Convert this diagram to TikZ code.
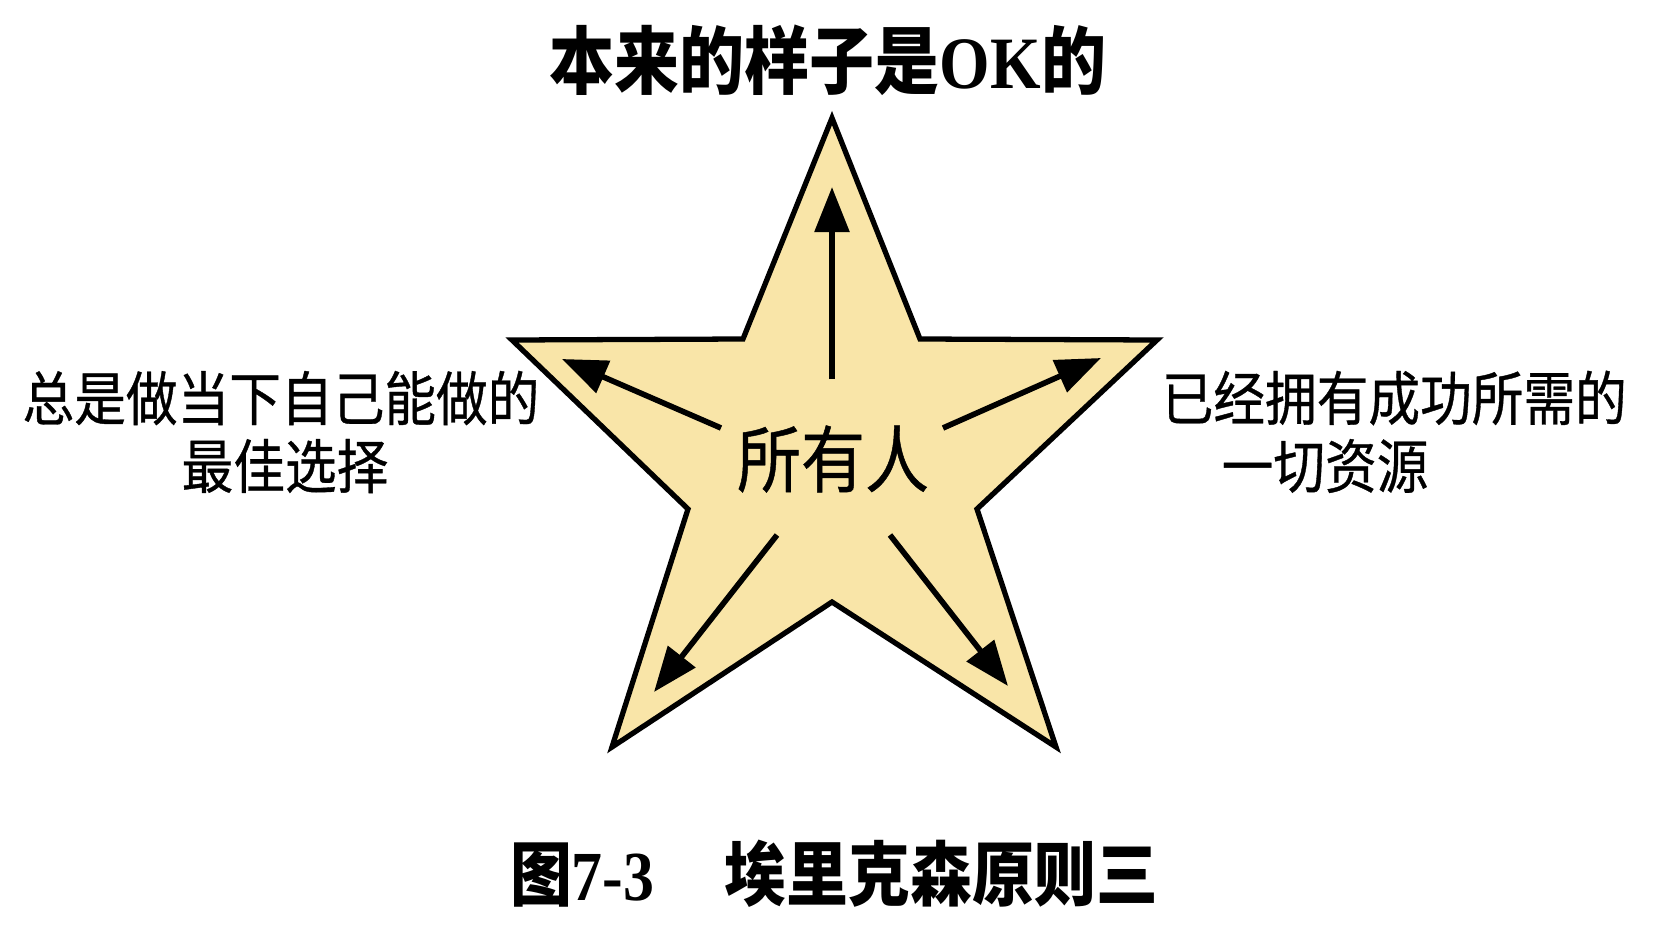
\documentclass[tikz,border=0pt]{standalone}
\usepackage{fontspec}
\setmainfont{Noto Sans CJK SC}
\newfontfamily\cjk[FakeStretch=0.88]{Noto Sans CJK SC}
\newfontfamily\cjkheavy[FakeStretch=0.88,FakeBold=0.6]{Noto Sans CJK SC}
\newfontfamily\latserif[FakeStretch=0.88]{Liberation Serif}
\usetikzlibrary{arrows.meta}
\definecolor{starfill}{RGB}{249,229,168}
\tikzset{
  starline/.style={draw=black, line width=1.5pt, line join=miter, fill=starfill},
  ray/.style={line width=1.6pt, -{Triangle[length=4.5mm,width=3.4mm]}},
  lbl/.style={inner sep=0pt, font=\cjkheavy\fontsize{16.7pt}{19pt}\selectfont},
  ttl/.style={inner sep=0pt, font=\cjk\bfseries\fontsize{21pt}{25pt}\selectfont},
  ctr/.style={inner sep=0pt, font=\cjkheavy\fontsize{20.7pt}{24pt}\selectfont},
}
\begin{document}
\begin{tikzpicture}[x=0.01cm, y=-0.01cm]
\useasboundingbox (0,0) rectangle (1665,945);
% star vertices
\coordinate (sT) at (832,118);
\coordinate (siTR) at (920,339);
\coordinate (sR) at (1157,340);
\coordinate (siR) at (977,509);
\coordinate (sBR) at (1056,747);
\coordinate (siB) at (832,602);
\coordinate (sBL) at (612,747);
\coordinate (siL) at (688,509);
\coordinate (sL) at (512,340);
\coordinate (siTL) at (743,339);
\path[starline] (sT) -- (siTR) -- (sR) -- (siR) -- (sBR) -- (siB) -- (sBL) -- (siL) -- (sL) -- (siTL) -- cycle;
% arrows
\coordinate (aUb) at (832,379); \coordinate (aUt) at (832,187);
\coordinate (aULb) at (721,428); \coordinate (aULt) at (562,359);
\coordinate (aURb) at (943,428); \coordinate (aURt) at (1101,358);
\coordinate (aLLb) at (777,535); \coordinate (aLLt) at (654,692);
\coordinate (aLRb) at (890,535); \coordinate (aLRt) at (1008,686);
\draw[ray] (aUb) -- (aUt);
\draw[ray] (aULb) -- (aULt);
\draw[ray] (aURb) -- (aURt);
\draw[ray] (aLLb) -- (aLLt);
\draw[ray] (aLRb) -- (aLRt);
% texts
\node[ttl] (title) at (828,60) {本来的样子是{\latserif\bfseries OK}的};
\node[ctr] (center) at (833,459) {所有人};
\node[lbl] (l1) at (281,398) {总是做当下自己能做的};
\node[lbl] (l2) at (285,466) {最佳选择};
\node[lbl, anchor=west] (r1) at (1161,398) {已经拥有成功所需的};
\node[lbl, anchor=west] (r2) at (1221,466) {一切资源};
\node[ttl, font=\cjk\bfseries\fontsize{20pt}{24pt}\selectfont] (cap) at (834,874) {图{\latserif\bfseries 7-3}\hspace{1em}埃里克森原则三};
\end{tikzpicture}
\end{document}
